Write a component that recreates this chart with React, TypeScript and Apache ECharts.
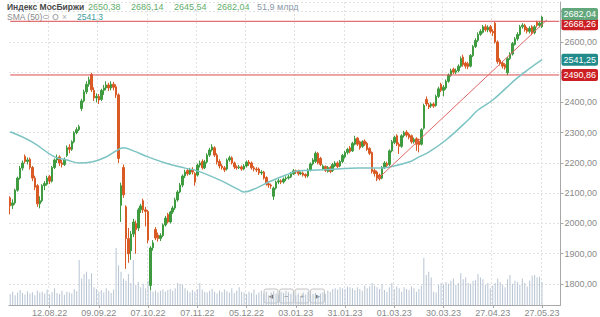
import React, { useEffect, useRef } from 'react';
import * as echarts from 'echarts';

// ---- data ----
const slotCount = 224; // trading-day slots on the axis (217 with data + empty space on the right)
const tickIndex = [16, 36, 56, 76, 96, 116, 136, 156, 176, 196, 216];
const tickLabels = ['12.08.22', '09.09.22', '07.10.22', '07.11.22', '05.12.22', '03.01.23', '31.01.23', '01.03.23', '30.03.23', '27.04.23', '27.05.23'];

// [open, close, low, high]
const candles: number[][] = [
  [2085, 2058, 2030, 2090], [2060, 2068, 2048, 2080], [2068, 2110, 2062, 2115], [2110, 2150, 2105, 2155],
  [2150, 2183, 2145, 2190], [2183, 2200, 2175, 2208], [2222, 2205, 2198, 2228], [2205, 2210, 2195, 2218],
  [2212, 2185, 2178, 2218], [2185, 2150, 2140, 2190], [2150, 2120, 2110, 2158], [2125, 2065, 2055, 2130],
  [2065, 2075, 2050, 2090], [2075, 2125, 2070, 2130], [2125, 2132, 2110, 2140], [2130, 2150, 2125, 2158],
  [2155, 2140, 2130, 2160], [2140, 2185, 2135, 2190], [2185, 2210, 2180, 2215], [2210, 2218, 2200, 2228],
  [2220, 2200, 2190, 2225], [2200, 2195, 2185, 2210], [2195, 2212, 2190, 2218], [2225, 2250, 2220, 2258],
  [2252, 2245, 2232, 2262], [2245, 2270, 2240, 2275], [2270, 2300, 2265, 2305], [2300, 2310, 2295, 2318],
  [2310, 2320, 2305, 2326], [2380, 2405, 2372, 2412], [2405, 2435, 2400, 2442], [2435, 2460, 2428, 2470],
  [2460, 2475, 2452, 2485], [2492, 2442, 2435, 2498], [2440, 2415, 2405, 2450], [2415, 2420, 2400, 2430],
  [2420, 2408, 2395, 2428], [2410, 2440, 2405, 2445], [2440, 2448, 2425, 2458], [2448, 2458, 2440, 2470],
  [2458, 2448, 2438, 2465], [2448, 2460, 2440, 2470], [2460, 2450, 2440, 2468], [2452, 2425, 2415, 2460],
  [2425, 2215, 2200, 2430], [2060, 2125, 2005, 2135], [2185, 2095, 2085, 2195], [2055, 1950, 1850, 2060],
  [1950, 1900, 1870, 1985], [1910, 1965, 1880, 1975], [1965, 2005, 1955, 2015], [2000, 1980, 1900, 2010],
  [1985, 2045, 1975, 2052], [2045, 2058, 2035, 2065], [2075, 2045, 2035, 2082], [2045, 2040, 1990, 2055],
  [2040, 1945, 1935, 2045], [1795, 1919, 1780, 1925], [1920, 1936, 1910, 1945], [1980, 1952, 1945, 1988],
  [1962, 1950, 1940, 1970], [1950, 1960, 1942, 1968], [1960, 1995, 1955, 2000], [1995, 2018, 1990, 2025],
  [2030, 2005, 2000, 2035], [2005, 2038, 2000, 2042], [2038, 2051, 2032, 2058], [2051, 2078, 2045, 2085],
  [2078, 2104, 2072, 2110], [2104, 2127, 2100, 2134], [2127, 2157, 2120, 2162], [2157, 2170, 2150, 2178],
  [2175, 2164, 2158, 2182], [2164, 2177, 2160, 2184], [2177, 2170, 2162, 2186], [2165, 2137, 2125, 2170],
  [2160, 2193, 2155, 2198], [2193, 2200, 2185, 2208], [2205, 2184, 2178, 2212], [2184, 2203, 2180, 2210],
  [2203, 2226, 2198, 2232], [2226, 2243, 2220, 2250], [2243, 2253, 2238, 2262], [2250, 2226, 2220, 2255],
  [2226, 2203, 2195, 2232], [2205, 2190, 2182, 2212], [2190, 2184, 2178, 2196], [2184, 2177, 2170, 2190],
  [2180, 2210, 2175, 2215], [2210, 2217, 2204, 2224], [2217, 2200, 2195, 2222], [2200, 2187, 2180, 2205],
  [2187, 2184, 2178, 2192], [2184, 2187, 2180, 2193], [2187, 2180, 2174, 2192], [2180, 2190, 2176, 2196],
  [2190, 2203, 2185, 2208], [2203, 2197, 2190, 2210], [2200, 2184, 2178, 2205], [2184, 2180, 2172, 2190],
  [2180, 2177, 2170, 2186], [2180, 2167, 2160, 2185], [2167, 2170, 2160, 2176], [2170, 2150, 2145, 2174],
  [2152, 2131, 2125, 2156], [2131, 2127, 2118, 2136], [2127, 2124, 2115, 2132], [2090, 2117, 2078, 2122],
  [2117, 2137, 2112, 2142], [2137, 2141, 2130, 2148], [2141, 2137, 2130, 2146], [2137, 2147, 2132, 2152],
  [2147, 2150, 2140, 2156], [2150, 2154, 2145, 2160], [2154, 2164, 2150, 2170], [2164, 2174, 2160, 2180],
  [2174, 2170, 2164, 2178], [2172, 2164, 2158, 2178], [2164, 2167, 2160, 2172], [2167, 2160, 2155, 2172],
  [2162, 2157, 2150, 2166], [2157, 2177, 2152, 2182], [2177, 2197, 2172, 2202], [2197, 2210, 2192, 2216],
  [2205, 2232, 2200, 2238], [2232, 2200, 2195, 2236], [2215, 2195, 2190, 2220], [2180, 2190, 2176, 2195],
  [2188, 2175, 2170, 2192], [2172, 2185, 2168, 2190], [2185, 2172, 2166, 2190], [2175, 2195, 2170, 2200],
  [2190, 2200, 2186, 2206], [2200, 2188, 2182, 2205], [2190, 2205, 2186, 2210], [2205, 2225, 2200, 2230],
  [2220, 2235, 2215, 2240], [2235, 2245, 2228, 2250], [2250, 2238, 2232, 2256], [2240, 2265, 2236, 2270],
  [2262, 2280, 2258, 2290], [2282, 2262, 2256, 2286], [2270, 2250, 2244, 2274], [2255, 2270, 2250, 2275],
  [2272, 2262, 2256, 2278], [2265, 2245, 2240, 2270], [2248, 2232, 2226, 2252], [2235, 2172, 2165, 2238],
  [2175, 2165, 2155, 2182], [2170, 2150, 2140, 2175], [2160, 2148, 2142, 2165], [2150, 2185, 2146, 2190],
  [2185, 2200, 2180, 2206], [2198, 2192, 2186, 2204], [2195, 2240, 2190, 2245], [2240, 2270, 2235, 2276],
  [2268, 2285, 2262, 2290], [2290, 2262, 2256, 2295], [2262, 2255, 2230, 2268], [2255, 2290, 2250, 2295],
  [2290, 2300, 2284, 2306], [2302, 2292, 2286, 2308], [2295, 2285, 2278, 2300], [2290, 2270, 2264, 2294],
  [2270, 2278, 2264, 2284], [2280, 2262, 2240, 2285], [2272, 2260, 2235, 2280], [2262, 2310, 2258, 2315],
  [2315, 2390, 2310, 2396], [2410, 2395, 2388, 2420], [2392, 2385, 2378, 2398], [2388, 2395, 2382, 2400],
  [2395, 2388, 2382, 2400], [2390, 2420, 2386, 2426], [2420, 2445, 2415, 2452], [2460, 2440, 2434, 2465],
  [2440, 2450, 2420, 2458], [2448, 2470, 2442, 2476], [2470, 2490, 2465, 2496], [2490, 2505, 2485, 2512],
  [2510, 2500, 2494, 2515], [2500, 2505, 2494, 2512], [2505, 2520, 2500, 2526], [2520, 2545, 2515, 2552],
  [2550, 2525, 2518, 2558], [2530, 2520, 2512, 2535], [2528, 2518, 2510, 2534], [2520, 2555, 2516, 2560],
  [2555, 2585, 2550, 2590], [2585, 2605, 2580, 2612], [2605, 2625, 2600, 2632], [2625, 2635, 2620, 2642],
  [2632, 2650, 2628, 2656], [2650, 2640, 2634, 2658], [2640, 2648, 2632, 2655], [2650, 2635, 2628, 2656],
  [2635, 2630, 2620, 2642], [2662, 2600, 2595, 2667], [2600, 2535, 2528, 2605], [2540, 2530, 2522, 2546],
  [2530, 2520, 2512, 2536], [2525, 2515, 2508, 2530], [2498, 2545, 2490, 2550], [2545, 2560, 2540, 2566],
  [2560, 2595, 2555, 2600], [2592, 2610, 2588, 2616], [2610, 2625, 2604, 2632], [2625, 2650, 2620, 2656],
  [2650, 2655, 2644, 2662], [2655, 2640, 2634, 2660], [2645, 2635, 2628, 2650], [2635, 2645, 2628, 2652],
  [2650, 2630, 2622, 2655], [2630, 2650, 2625, 2656], [2665, 2655, 2648, 2670], [2655, 2662, 2648, 2668],
  [2650.38, 2682.04, 2645.54, 2686.14],
];

// volume, billions of roubles
const volume: number[] = [
  25, 30, 22, 28, 34, 27, 24, 31, 26, 29, 22, 33, 28,
  30, 26, 35, 24, 29, 38, 27, 25, 32, 23, 30, 28, 26, 36, 31,
  102, 60, 70, 75, 58, 72,
  40, 36, 30, 34, 28, 38, 32, 27, 35,
  129, 90, 75, 60, 55, 70,
  50, 102, 45, 52, 40, 48, 38, 55,
  45,
  30, 33, 28, 32, 35, 30, 34, 36, 32, 38, 50, 48, 46, 38, 33, 29, 34, 30, 36,
  50, 35, 30, 28, 32, 37, 30, 26, 33, 29, 35, 31, 28, 38, 27, 32, 40, 30, 28,
  25, 30, 27, 35, 24, 28, 33, 26, 30, 22, 28, 31, 26, 24, 30, 27, 32, 29, 25, 28,
  22, 26, 20, 28, 24, 30, 22, 25, 27, 21, 26, 28, 25,
  33, 30, 36, 38, 35, 40, 38, 36, 42, 40, 38, 34, 40, 36, 32, 44, 38, 42,
  50, 44, 40, 36, 48, 34, 30, 40, 50, 36, 42, 38,
  30, 40, 36, 34, 42, 38, 30, 36, 44,
  106,
  68, 75, 62,
  30, 28, 45, 50, 47, 52, 48, 55, 60, 45, 50, 72, 58, 62, 50,
  48, 55, 56, 70, 62, 58, 45, 50,
  38, 44, 50, 60, 52, 46, 40,
  58, 68, 48, 55, 52, 45, 60, 50, 42, 55, 66, 68, 62, 64, 51.9,
];

// SMA(50): [slot index, value]
const smaPoints: number[][] = [
  [0, 2303], [9, 2269], [18, 2220], [23, 2210], [28, 2200], [33, 2203], [39, 2220], [43, 2240],
  [46, 2250], [50, 2240], [56, 2220], [63, 2200], [71, 2183], [76, 2174], [85, 2144], [93, 2111],
  [95, 2104], [100, 2117], [105, 2137], [112, 2160], [117, 2174], [125, 2177], [133, 2180], [141, 2183],
  [150, 2183], [154, 2187], [162, 2203], [166, 2220], [170, 2236], [177, 2276], [186, 2342], [190, 2375],
  [196, 2408], [206, 2481], [216, 2541.3],
];

const trendPoints: number[][] = [[149, 2145], [218, 2673]];
const levelLines = [2668.26, 2490.86];
const lastPrice = 2682.04;
const smaLast = 2541.25;
const hiddenAxisLabels = [2500, 2700]; // covered by the price tags in the original
const headerValues = ['2650,38', '2686,14', '2645,54', '2682,04'];
const headerVolume = '51,9 млрд';
const smaHeader = '2541,3';

const FONT = '"Liberation Sans", Arial, sans-serif';
const fmt = (v: number) => v.toFixed(2).replace('.', ',');

export default function App() {
  const ref = useRef<HTMLDivElement>(null);
  useEffect(() => {
    if (!ref.current) return;
    const chart = echarts.init(ref.current, null, { renderer: 'svg' });
    const categories = Array.from({ length: slotCount }, (_, i) => String(i));
    const isTick = (idx: number) => tickIndex.indexOf(idx) >= 0;

    const tagLabel = (bg: string, text: string, dy: number) => ({
      show: true,
      position: 'end',
      formatter: text,
      color: '#fff',
      backgroundColor: bg,
      padding: [2, 2, 1, 2],
      borderRadius: 2,
      fontSize: 9,
      fontFamily: FONT,
      distance: 1,
      offset: [0, dy],
    });
    const hidden = { color: 'rgba(255,255,255,0)', width: 0 };

    const headerX = [88, 131, 174, 217];
    const graphic: any[] = [
      { type: 'text', x: 7, y: 2, style: { text: 'Индекс МосБиржи', font: `bold 8.5px ${FONT}`, fill: '#4a4a4a' } },
      ...headerValues.map((t, i) => ({ type: 'text', x: headerX[i], y: 2, style: { text: t, font: `9px ${FONT}`, fill: '#5fae6c' } })),
      { type: 'text', x: 257, y: 2, style: { text: headerVolume, font: `9px ${FONT}`, fill: '#8a97a6' } },
      { type: 'text', x: 7, y: 12, style: { text: 'SMA (50)', font: `8.5px ${FONT}`, fill: '#8a8a8a' } },
      { type: 'ellipse', shape: { cx: 46, cy: 17, rx: 3, ry: 1.6 }, style: { fill: 'none', stroke: '#b0b0b0', lineWidth: 1 } },
      { type: 'circle', shape: { cx: 55.5, cy: 17, r: 2.5 }, style: { fill: 'none', stroke: '#b0b0b0', lineWidth: 1.2 } },
      { type: 'text', x: 62, y: 12, style: { text: '×', font: `8.5px ${FONT}`, fill: '#b0b0b0' } },
      { type: 'text', x: 77, y: 12, style: { text: smaHeader, font: `8.5px ${FONT}`, fill: '#3a9c9c' } },
    ];
    const btns = ['◄', '−', '+', '►'];
    btns.forEach((b, i) => {
      const x0 = 264 + i * 15.5;
      graphic.push({ type: 'rect', shape: { x: x0, y: 289, width: 14, height: 14, r: 2 }, style: { fill: 'rgba(248,248,248,0.9)', stroke: '#c4c4c4', lineWidth: 1 } });
      graphic.push({ type: 'text', x: x0 + 7, y: 296, style: { text: b, font: `8px ${FONT}`, fill: '#777', align: 'center', verticalAlign: 'middle' } });
    });

    const levelSeries = levelLines.map((v) => ({
      type: 'line',
      name: 'level',
      data: [[0, v], [slotCount - 1, v]],
      symbol: 'none',
      silent: true,
      z: 4,
      lineStyle: { color: '#dc4b4e', width: 1 },
    }));

    chart.setOption({
      animation: false,
      backgroundColor: '#ffffff',
      grid: { left: 9, right: 38, top: 2, bottom: 12, containLabel: false },
      xAxis: {
        type: 'category',
        data: categories,
        boundaryGap: true,
        axisLine: { show: true, lineStyle: { color: '#a8a8a8' } },
        axisTick: { show: true, interval: (idx: number) => isTick(idx), length: 3, alignWithLabel: true, lineStyle: { color: '#a8a8a8' } },
        axisLabel: {
          interval: (idx: number) => isTick(idx),
          formatter: (_v: string, idx: number) => {
            const k = tickIndex.indexOf(idx);
            return k >= 0 ? tickLabels[k] : '';
          },
          fontSize: 9,
          fontFamily: FONT,
          color: '#8a8a8a',
          margin: 3,
        },
        splitLine: { show: true, interval: (idx: number) => isTick(idx), lineStyle: { color: '#e2e2e2', type: [2, 2] } },
      },
      yAxis: [
        {
          type: 'value',
          position: 'right',
          min: 1730.6,
          max: 2732,
          splitNumber: 10,
          axisLine: { show: true, lineStyle: { color: '#a8a8a8' } },
          axisTick: { show: true, length: 3, lineStyle: { color: '#a8a8a8' } },
          axisLabel: {
            showMinLabel: false,
            showMaxLabel: false,
            formatter: (v: number) => (hiddenAxisLabels.indexOf(Math.round(v)) >= 0 ? '' : fmt(v)),
            fontSize: 9,
            fontFamily: FONT,
            color: '#8a8a8a',
            margin: 4,
          },
          splitLine: { show: true, lineStyle: { color: '#e2e2e2', type: [2, 2] } },
        },
        { type: 'value', min: 0, max: 685, show: false },
      ],
      graphic,
      series: [
        {
          type: 'bar',
          name: 'volume',
          xAxisIndex: 0,
          yAxisIndex: 1,
          data: volume,
          barWidth: 1,
          silent: true,
          z: 1,
          itemStyle: { color: '#b7c4d3' },
        },
        {
          type: 'candlestick',
          name: 'IMOEX',
          xAxisIndex: 0,
          yAxisIndex: 0,
          data: candles,
          barWidth: 2,
          z: 3,
          itemStyle: { color: '#3f9b40', color0: '#d95a24', borderColor: '#3f9b40', borderColor0: '#d95a24', borderWidth: 1 },
        },
        ...levelSeries,
        {
          // helper series carrying the right-hand value tags
          type: 'line',
          name: 'tags',
          data: [],
          markLine: {
            symbol: ['none', 'none'],
            silent: true,
            animation: false,
            data: [
              { yAxis: levelLines[0], lineStyle: hidden, label: tagLabel('#cc1f24', fmt(levelLines[0]), 3) },
              { yAxis: levelLines[1], lineStyle: hidden, label: tagLabel('#cc1f24', fmt(levelLines[1]), 0) },
              { yAxis: smaLast, lineStyle: hidden, label: tagLabel('#218b8b', fmt(smaLast), 0) },
              { yAxis: lastPrice, lineStyle: hidden, label: tagLabel('#62a77c', fmt(lastPrice), -3) },
            ],
          },
          z: 5,
        },
        {
          type: 'line',
          name: 'SMA (50)',
          data: smaPoints,
          smooth: 0.4,
          symbol: 'none',
          z: 4,
          lineStyle: { color: '#7cc3c3', width: 1.5 },
        },
        {
          type: 'line',
          name: 'trend',
          data: trendPoints,
          symbol: 'none',
          z: 4,
          lineStyle: { color: '#e06666', width: 1 },
        },
      ],
    });
    return () => chart.dispose();
  }, []);
  return <div ref={ref} style={{ position: 'fixed', left: 0, top: 0, width: 600, height: 317 }} />;
}
